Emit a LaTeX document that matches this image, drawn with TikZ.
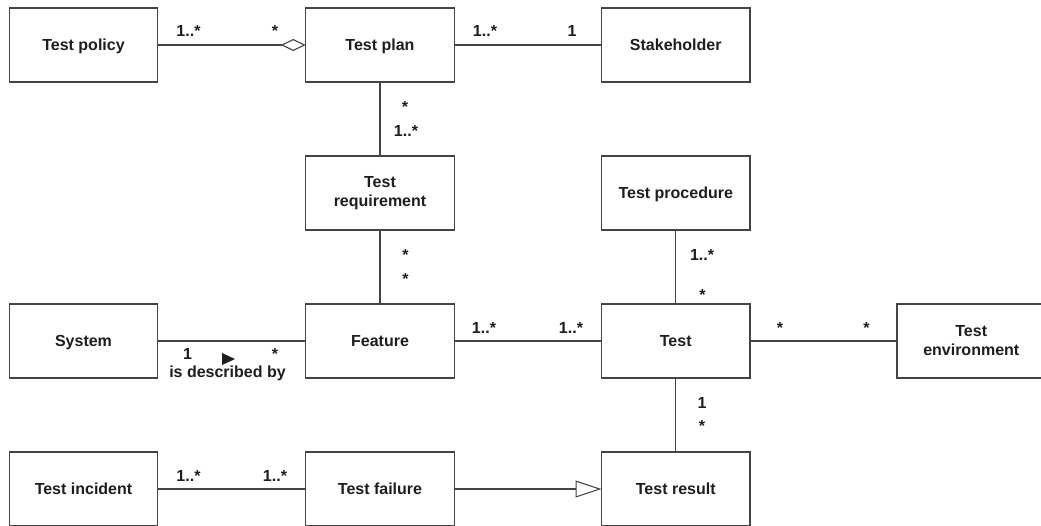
\documentclass[tikz,border=0pt]{standalone}
\usepackage{fontspec}
\setmainfont{Liberation Sans}
\usetikzlibrary{arrows.meta}
\definecolor{umlline}{HTML}{444444}
\definecolor{umltext}{HTML}{1E1E1E}
\begin{document}
\begin{tikzpicture}[x=1pt,y=-1pt,
  boxbase/.style={draw=umlline, line width=1.1pt, fill=white,
    minimum width=148.5pt, minimum height=74pt, inner sep=0pt, outer sep=0pt,
    text=umltext, font=\fontsize{16}{19}\selectfont\bfseries},
  one/.style={boxbase, text height=11.6pt, text depth=0pt},
  two/.style={boxbase, align=center},
  mult/.style={anchor=base, inner sep=0pt, outer sep=0pt, text=umltext,
    font=\fontsize{16}{19}\selectfont\bfseries},
  assoc/.style={draw=umlline, line width=1.1pt}]

% page area
\useasboundingbox (0,0) rectangle (1041,525);
\fill[white] (0,0) rectangle (1041,525);

% classes
\node[one] (policy)   at (83.5,45)    {Test policy};
\node[one] (plan)     at (380,45)     {Test plan};
\node[one] (stake)    at (675.75,45)  {Stakeholder};
\node[two] (req)      at (380,193)    {Test\\requirement};
\node[one] (proc)     at (675.75,193) {Test procedure};
\node[one] (system)   at (83.5,341)   {System};
\node[one] (feature)  at (380,341)    {Feature};
\node[one] (test)     at (675.75,341) {Test};
\node[two] (env)      at (971.25,341) {Test\\environment};
\node[one] (incident) at (83.5,489)   {Test incident};
\node[one] (failure)  at (380,489)    {Test failure};
\node[one] (result)   at (675.75,489) {Test result};

% associations
\draw[assoc, -{Diamond[open, length=25pt, width=12pt]}] (policy) -- (plan);
\draw[assoc] (plan) -- (stake);
\draw[assoc] (plan) -- (req);
\draw[assoc] (req) -- (feature);
\draw[assoc] (system) -- (feature);
\draw[assoc] (feature) -- (test);
\draw[assoc] (proc) -- (test);
\draw[assoc] (test) -- (env);
\draw[assoc] (test) -- (result);
\draw[assoc] (incident) -- (failure);
\draw[assoc, -{Triangle[open, length=26pt, width=17pt]}] (failure) -- (result);

% multiplicities
\node[mult] (m1)  at (188.5,36) {1..*};
\node[mult] (m2)  at (275,36)   {*};
\node[mult] (m3)  at (485,36)   {1..*};
\node[mult] (m4)  at (572,36)   {1};
\node[mult] (m5)  at (405,112)  {*};
\node[mult] (m6)  at (406,136)  {1..*};
\node[mult] (m7)  at (405.5,260) {*};
\node[mult] (m8)  at (405.5,284) {*};
\node[mult] (m9)  at (702,260)  {1..*};
\node[mult] (m10) at (702.5,300) {*};
\node[mult] (m11) at (187.5,359) {1};
\node[mult] (m12) at (275,359)  {*};
\node[mult] (m13) at (484,333)  {1..*};
\node[mult] (m14) at (571,333)  {1..*};
\node[mult] (m15) at (780,333)  {*};
\node[mult] (m16) at (866.5,333) {*};
\node[mult] (m17) at (702,408)  {1};
\node[mult] (m18) at (702,431.5) {*};
\node[mult] (m19) at (188.5,481) {1..*};
\node[mult] (m20) at (275,481)  {1..*};

% association name with reading direction
\fill[umltext] (222,353) -- (235,359) -- (222,365) -- cycle;
\node[mult] (assocname) at (227.5,377) {is described by};
\end{tikzpicture}
\end{document}
